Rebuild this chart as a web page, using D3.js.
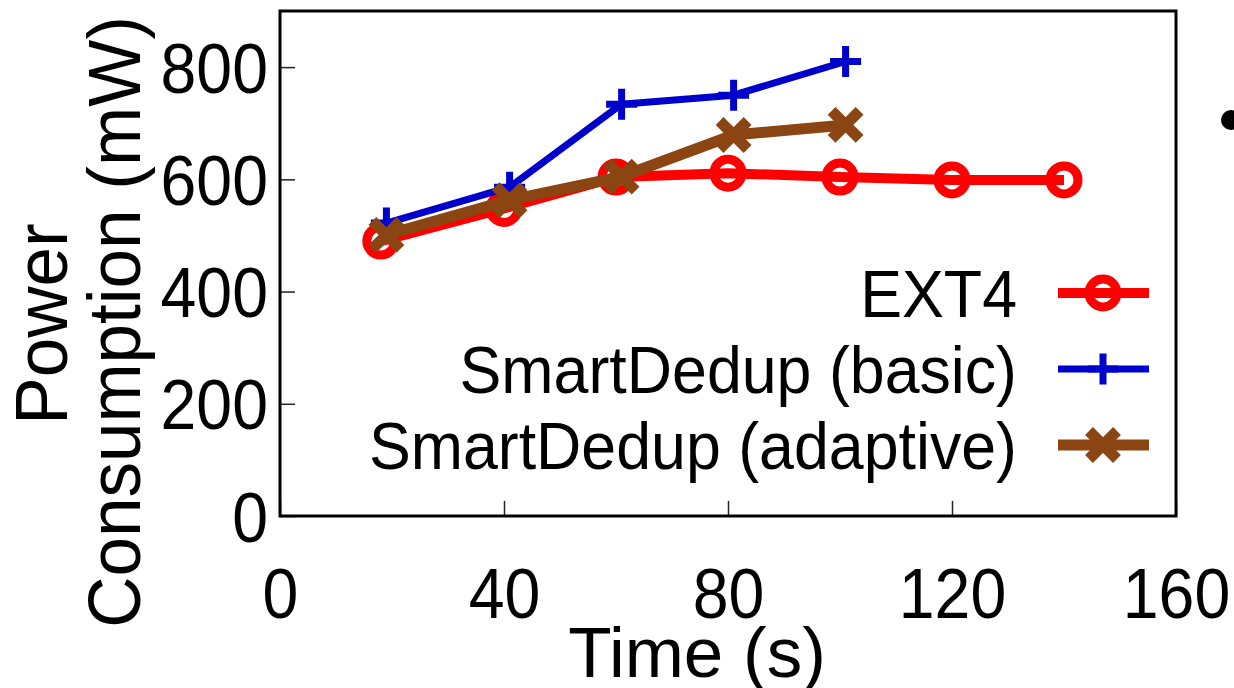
<!DOCTYPE html>
<html>
<head>
<meta charset="utf-8">
<script src="https://cdn.jsdelivr.net/npm/d3@7"></script>
<style>
  body { margin: 0; background: #fff; }
  svg { display: block; }
  text { font-family: "Liberation Sans", Arial, sans-serif; fill: #000; }
</style>
</head>
<body>
<svg id="chart" width="1234" height="688"></svg>
<script>
// data
const ext4X = [18, 40, 60, 80, 100, 120, 140]
const ext4Y = [490, 548, 604, 611, 604, 599, 599]
const basicX = [19, 41, 61, 81, 101]
const basicY = [522, 586, 734, 750, 810]
const adaptiveX = [19, 41, 61, 81, 101]
const adaptiveY = [501, 563, 605, 679, 697]
const xTicks = [0, 40, 80, 120, 160]
const yTicks = [0, 200, 400, 600, 800]
const seriesNames = ['EXT4', 'SmartDedup (basic)', 'SmartDedup (adaptive)']

const svg = d3.select('#chart')
const margin = { top: 11, right: 58, bottom: 172, left: 280 }
const width = 1234 - margin.left - margin.right
const height = 688 - margin.top - margin.bottom

const x = d3.scaleLinear().domain([0, 160]).range([0, width])
const y = d3.scaleLinear().domain([0, 900]).range([height, 0])

const g = svg.append('g').attr('transform', `translate(${margin.left},${margin.top})`)

// axes, ticks pointing in
const xAxis = g.append('g')
    .attr('transform', `translate(0,${height})`)
    .call(d3.axisBottom(x).tickValues(xTicks).tickSizeInner(-15).tickSizeOuter(0).tickPadding(0))
const yAxis = g.append('g')
    .call(d3.axisLeft(y).tickValues(yTicks).tickSizeInner(-15).tickSizeOuter(0).tickPadding(0))

xAxis.select('.domain').remove()
yAxis.select('.domain').remove()
g.selectAll('.tick line').attr('stroke', '#222').attr('stroke-width', 1.5)

xAxis.selectAll('.tick text')
    .attr('y', null).attr('dy', null)
    .attr('font-size', 70)
    .attr('transform', 'translate(0,102) scale(0.92,1)')
yAxis.selectAll('.tick text')
    .attr('x', null).attr('dy', null)
    .attr('font-size', 70)
    .attr('transform', 'translate(-12,25) scale(0.92,1)')

g.append('rect')
    .attr('width', width).attr('height', height)
    .attr('fill', 'none').attr('stroke', '#000').attr('stroke-width', 3)

// axis titles
svg.append('text')
    .attr('text-anchor', 'middle').attr('font-size', 71)
    .attr('transform', 'translate(697,677)')
    .text('Time (s)')
svg.append('text')
    .attr('text-anchor', 'middle').attr('font-size', 74)
    .attr('transform', 'translate(67,324) rotate(-90) scale(0.96,1)')
    .text('Power')
svg.append('text')
    .attr('text-anchor', 'middle').attr('font-size', 74)
    .attr('transform', 'translate(140,322) rotate(-90) scale(0.96,1)')
    .text('Consumption (mW)')

// markers
function drawMarker(sel, kind, color) {
  if (kind === 'circle') {
    sel.append('circle').attr('r', 14).attr('fill', 'none')
        .attr('stroke', color).attr('stroke-width', 9)
  } else if (kind === 'plus') {
    sel.append('path').attr('d', 'M-15.5,0H15.5M0,-15.5V15.5')
        .attr('stroke', color).attr('stroke-width', 7)
  } else {
    sel.append('path').attr('d', 'M-14,-14L14,14M-14,14L14,-14')
        .attr('stroke', color).attr('stroke-width', 11)
  }
}

const series = [
  { name: seriesNames[0], xs: ext4X, ys: ext4Y, color: '#ff0000', width: 10, marker: 'circle' },
  { name: seriesNames[1], xs: basicX, ys: basicY, color: '#0000cc', width: 7, marker: 'plus' },
  { name: seriesNames[2], xs: adaptiveX, ys: adaptiveY, color: '#8b4513', width: 11, marker: 'cross' }
]

const line = d3.line().x(d => x(d[0])).y(d => y(d[1]))

series.forEach(s => {
  const pts = s.xs.map((v, i) => [v, s.ys[i]])
  g.append('path')
      .datum(pts)
      .attr('d', line)
      .attr('fill', 'none')
      .attr('stroke', s.color)
      .attr('stroke-width', s.width)
      .attr('stroke-linejoin', 'round')
  pts.forEach(p => {
    const m = g.append('g').attr('transform', `translate(${x(p[0])},${y(p[1])})`)
    drawMarker(m, s.marker, s.color)
  })
})

// legend
const legend = svg.append('g')
series.forEach((s, i) => {
  const ly = 293 + i * 76
  legend.append('text')
      .attr('text-anchor', 'end').attr('font-size', 66)
      .attr('transform', `translate(1017,${ly + 24}) scale(0.95,1)`)
      .text(s.name)
  legend.append('line')
      .attr('x1', 1058).attr('x2', 1149).attr('y1', ly).attr('y2', ly)
      .attr('stroke', s.color).attr('stroke-width', s.width)
  const m = legend.append('g').attr('transform', `translate(1103,${ly})`)
  drawMarker(m, s.marker, s.color)
})

// stray dot at the right edge
svg.append('circle').attr('cx', 1231).attr('cy', 120).attr('r', 10).attr('fill', '#000')
</script>
</body>
</html>
